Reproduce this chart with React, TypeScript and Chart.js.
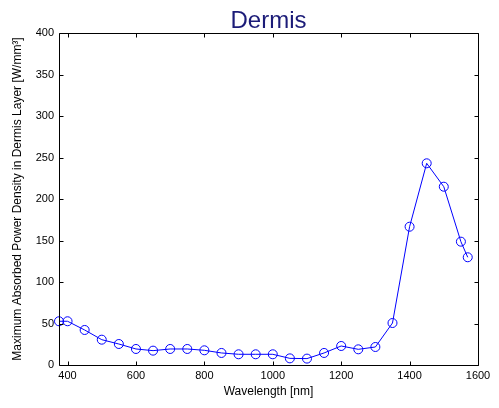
import React, { useEffect, useRef } from "react";
import { Chart, registerables } from "chart.js";

Chart.register(...registerables);

const wavelengths = [375, 400, 450, 500, 550, 600, 650, 700, 750, 800, 850, 900, 950, 1000, 1050, 1100, 1150, 1200, 1250, 1300, 1350, 1400, 1450, 1500, 1550, 1570];
const powerDensity = [52.7, 52.7, 42.2, 30.5, 25.3, 19.3, 17.3, 19.3, 19.3, 17.7, 14.5, 12.9, 12.9, 12.9, 8.0, 7.7, 14.5, 22.9, 18.9, 21.7, 50.6, 166.6, 243, 214.8, 148.6, 129.8];
const xTickValues = [400, 600, 800, 1000, 1200, 1400, 1600];
const titleText = "Dermis";
const xLabel = "Wavelength [nm]";
const yLabel = "Maximum Absorbed Power Density in Dermis Layer [W/mm\u00B3]";

const FONT = "'Liberation Sans', Arial, Helvetica, sans-serif";

const boxPlugin = {
  id: "matlabBox",
  afterDatasetsDraw(chart: any) {
    const { ctx, chartArea } = chart;
    const { left, right, top, bottom } = chartArea;
    const L = Math.round(left) + 0.5;
    const R = Math.round(right) + 0.5;
    const T = Math.round(top) + 0.5;
    const B = Math.round(bottom) + 0.5;
    ctx.save();
    ctx.strokeStyle = "#000";
    ctx.lineWidth = 1;
    ctx.beginPath();
    ctx.rect(L, T, R - L, B - T);
    const tl = 4;
    const xs = chart.scales.x;
    xs.ticks.forEach((t: any) => {
      const px = Math.round(xs.getPixelForValue(t.value)) + 0.5;
      ctx.moveTo(px, B);
      ctx.lineTo(px, B - tl);
      ctx.moveTo(px, T);
      ctx.lineTo(px, T + tl);
    });
    const ys = chart.scales.y;
    ys.ticks.forEach((t: any) => {
      const py = Math.round(ys.getPixelForValue(t.value)) + 0.5;
      ctx.moveTo(L, py);
      ctx.lineTo(L + tl, py);
      ctx.moveTo(R, py);
      ctx.lineTo(R - tl, py);
    });
    ctx.stroke();
    ctx.restore();
  },
};

export default function App() {
  const ref = useRef<HTMLCanvasElement | null>(null);

  useEffect(() => {
    if (!ref.current) return;
    Chart.defaults.font.family = FONT;
    const chart = new Chart(ref.current, {
      type: "line",
      data: {
        datasets: [
          {
            data: wavelengths.map((w, i) => ({ x: w, y: powerDensity[i] })),
            borderColor: "#0000ff",
            borderWidth: 1,
            pointRadius: 4.5,
            pointBorderWidth: 1,
            pointBorderColor: "#0000ff",
            pointBackgroundColor: "rgba(0,0,0,0)",
            pointStyle: "circle",
            tension: 0,
            clip: false as any,
          },
        ],
      },
      options: {
        responsive: false,
        animation: false,
        events: [],
        layout: { padding: { left: 0, right: 21, top: 0, bottom: 0 } },
        plugins: {
          legend: { display: false },
          tooltip: { enabled: false },
          title: {
            display: true,
            text: titleText,
            color: "#1c1c78",
            fullSize: false,
            font: { family: FONT, size: 24, weight: "normal", lineHeight: 1 },
            padding: { top: 9, bottom: 0 },
          },
        },
        scales: {
          x: {
            type: "linear",
            min: 375,
            max: 1600,
            afterBuildTicks: (s: any) => {
              s.ticks = xTickValues.map((v) => ({ value: v }));
            },
            afterFit: (s: any) => {
              s.height = 43;
            },
            grid: { display: false, drawTicks: false },
            border: { display: false },
            ticks: {
              color: "#000",
              font: { family: FONT, size: 11 },
              padding: 4,
              maxRotation: 0,
              autoSkip: false,
              callback: (v: any) => String(v),
            },
            title: {
              display: true,
              text: xLabel,
              color: "#000",
              font: { family: FONT, size: 12 },
              padding: { top: 0, bottom: 9.3 },
            },
          },
          y: {
            type: "linear",
            min: 0,
            max: 400,
            afterFit: (s: any) => {
              s.width = 59;
            },
            grid: { display: false, drawTicks: false },
            border: { display: false },
            ticks: {
              stepSize: 50,
              color: "#000",
              font: { family: FONT, size: 11 },
              padding: 5,
              callback: (v: any) => String(v),
            },
            title: {
              display: true,
              text: yLabel,
              color: "#000",
              font: { family: FONT, size: 12 },
              padding: { top: 10.8, bottom: 0 },
            },
          },
        },
      },
      plugins: [boxPlugin],
    });
    return () => chart.destroy();
  }, []);

  return (
    <div style={{ position: "absolute", left: 0, top: 0, width: 499, height: 408, background: "#fff" }}>
      <canvas ref={ref} width={499} height={408} style={{ display: "block" }} />
    </div>
  );
}
